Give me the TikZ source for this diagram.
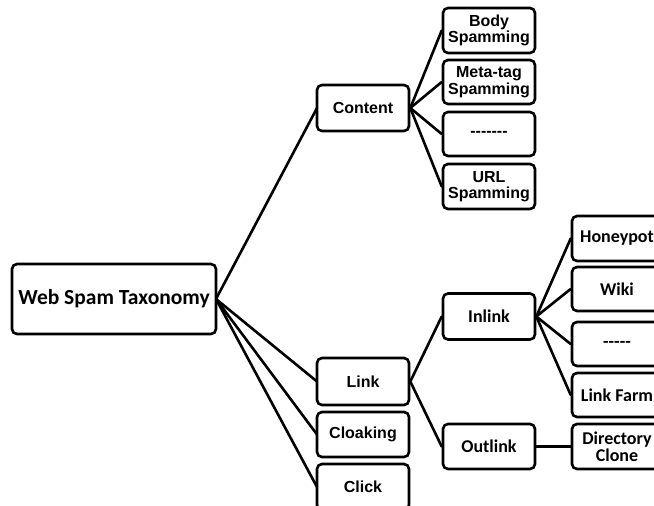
\documentclass[tikz,border=0pt]{standalone}
\usepackage{fontspec}
\newfontfamily\arialfont{Liberation Sans}
\newfontfamily\calibri{Carlito}
\begin{document}
\begin{tikzpicture}[x=1pt,y=-1pt,
  box/.style={draw=black, line width=2.6pt, rounded corners=5pt, fill=white,
    inner sep=0pt, align=center, text=black},
  midbox/.style={box, minimum width=92pt},
  leafbox/.style={box, minimum width=90pt},
  fa/.style={font=\arialfont\bfseries\fontsize{16}{16.5}\selectfont},
  fc/.style={font=\calibri\bfseries\fontsize{18}{17.5}\selectfont},
  link/.style={line width=2.6pt, line cap=round}]
  \useasboundingbox (0,0) rectangle (654,506);
  \fill[white] (0,0) rectangle (654,506);
  \clip (0,0) rectangle (654,506);

  % connectors, drawn first so the boxes cover their ends
  \coordinate (rootE) at (216,299);
  \draw[link] (rootE) -- (317,108);
  \draw[link] (rootE) -- (317,381.5);
  \draw[link] (rootE) -- (317,434.5);
  \draw[link] (rootE) -- (317,487);

  % root
  \node[box, minimum width=204pt, minimum height=70pt,
        font=\calibri\bfseries\fontsize{21.5}{24}\selectfont] (root) at (114,299) {Web Spam Taxonomy};

  % first level
  \node[midbox, fa, minimum height=46pt] (content) at (363,108) {Content};
  \node[midbox, fa, minimum height=47pt] (link) at (363,381.5) {Link};
  \node[midbox, fa, minimum height=45pt] (cloak) at (363,434.5) {Cloaking};
  \node[midbox, fa, minimum height=46pt] (click) at (363,487) {Click};

  % content leaves
  \node[midbox, fa, minimum height=45pt] (body) at (489,30.5) {Body\\Spamming};
  \node[midbox, fa, minimum height=44pt] (meta) at (489,82) {Meta-tag\\Spamming};
  \node[midbox, fa, minimum height=44pt] (cdots) at (489,134) {-------};
  \node[midbox, fa, minimum height=45pt] (url) at (489,186.5) {URL\\Spamming};

  % link children
  \node[midbox, fc, minimum height=46pt] (inlink) at (489,316.5) {Inlink};
  \node[midbox, fc, minimum height=45pt] (outlink) at (489,446.5) {Outlink};

  % inlink / outlink leaves
  \node[leafbox, fc, minimum height=45pt] (honey) at (617,238.5) {Honeypot};
  \node[leafbox, fc, minimum height=44pt] (wiki) at (617,289) {Wiki};
  \node[leafbox, fc, minimum height=44pt] (ldots) at (617,344) {-----};
  \node[leafbox, fc, minimum height=44pt] (farm) at (617,395) {Link Farm};
  \node[leafbox, fc, minimum height=45pt] (dir) at (617,446.5) {Directory\\Clone};

  % connectors between named boxes
  \foreach \n in {body,meta,cdots,url} \draw[link] (content.east) -- (\n.west);
  \draw[link] (link.east) -- (inlink.west);
  \draw[link] (link.east) -- (outlink.west);
  \foreach \n in {honey,wiki,ldots,farm} \draw[link] (inlink.east) -- (\n.west);
  \draw[link] (outlink.east) -- (dir.west);
\end{tikzpicture}
\end{document}
